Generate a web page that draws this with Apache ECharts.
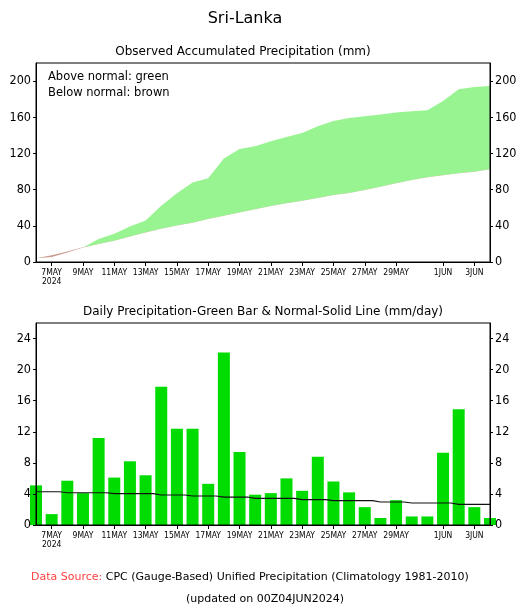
<!DOCTYPE html>
<html>
<head>
<meta charset="utf-8">
<script src="https://cdn.jsdelivr.net/npm/echarts@6/dist/echarts.min.js"></script>
<style>
  html, body { margin: 0; padding: 0; background: #fff; }
  #chart { width: 532px; height: 607px; }
</style>
</head>
<body>
<div id="chart"></div>
<script>
// Days shown on both panels (index 0 = 6 May 2024)
const days = ['6MAY','7MAY','8MAY','9MAY','10MAY','11MAY','12MAY','13MAY','14MAY','15MAY',
  '16MAY','17MAY','18MAY','19MAY','20MAY','21MAY','22MAY','23MAY','24MAY','25MAY',
  '26MAY','27MAY','28MAY','29MAY','30MAY','31MAY','1JUN','2JUN','3JUN','4JUN'];

// Accumulated precipitation (mm)
const observedAccum = [4.2, 5.5, 10.6, 16.1, 25.3, 31.2, 39.2, 45.8, 62.3, 76.0,
  88.0, 92.5, 114.5, 124.8, 128.1, 133.6, 138.3, 142.7, 150.1, 156.0,
  159.2, 161.1, 163.0, 165.2, 166.6, 167.7, 178.0, 190.9, 193.4, 194.5];
const normalAccum = [4.1, 7.5, 11.7, 16.4, 19.8, 23.5, 28.2, 32.6, 36.7, 40.3,
  43.5, 47.4, 51.0, 54.6, 58.4, 62.0, 65.0, 67.8, 70.8, 74.1,
  76.4, 79.6, 83.3, 87.0, 90.6, 93.6, 95.8, 98.0, 99.8, 102.4];

// Daily precipitation (mm/day) and its climatological normal
const dailyPrecip = [5.1, 1.4, 5.7, 4.1, 11.2, 6.1, 8.2, 6.4, 17.8, 12.4,
  12.4, 5.3, 22.2, 9.4, 3.9, 4.1, 6.0, 4.4, 8.8, 5.6,
  4.2, 2.3, 0.9, 3.2, 1.1, 1.1, 9.3, 14.9, 2.3, 0.9];
const normalDaily = [4.28, 4.28, 4.15, 4.15, 4.15, 4.03, 4.03, 4.03, 3.86, 3.86,
  3.73, 3.73, 3.6, 3.6, 3.43, 3.43, 3.43, 3.26, 3.26, 3.13,
  3.13, 3.13, 2.96, 2.96, 2.83, 2.83, 2.83, 2.66, 2.66, 2.66];

// Date ticks along the bottom of each panel
const tickDays = [1, 3, 5, 7, 9, 11, 13, 15, 17, 19, 21, 23, 26, 28];
const tickLabels = ['7MAY\n2024','9MAY','11MAY','13MAY','15MAY','17MAY','19MAY',
  '21MAY','23MAY','25MAY','27MAY','29MAY','1JUN','3JUN'];

const accumTicks = [0, 40, 80, 120, 160, 200];
const dailyTicks = [0, 4, 8, 12, 16, 20, 24];

// Layered fills: green under observed, brown under normal, white under the lower of the two,
// which leaves green where observed exceeds normal and brown where it falls short.
const pairs = arr => arr.map((v, i) => [i, v]);
const lowerCurve = observedAccum.map((v, i) => Math.min(v, normalAccum[i]));

const FONT = 'DejaVu Sans';
const NARROW = '"DejaVu Sans Condensed", "Liberation Sans Narrow", sans-serif';

function xAxisFor(gridIndex) {
  return {
    type: 'value', gridIndex, min: 0, max: days.length - 1, z: 10,
    axisLine: { show: true, lineStyle: { color: '#000', width: 1 } },
    axisTick: { show: true, customValues: tickDays, length: 4, lineStyle: { color: '#000' } },
    axisLabel: {
      customValues: tickDays, margin: 6, color: '#000',
      fontFamily: NARROW, fontSize: 8.5, lineHeight: 9,
      formatter: v => tickLabels[tickDays.indexOf(Math.round(v))] || ''
    },
    splitLine: { show: false }
  };
}
function yAxisFor(gridIndex, pos, max, ticks) {
  return {
    type: 'value', gridIndex, position: pos, min: 0, max, z: 10,
    axisLine: { show: true, lineStyle: { color: '#000', width: 1 } },
    axisTick: { show: true, customValues: ticks, length: 3, lineStyle: { color: '#000' } },
    axisLabel: { customValues: ticks, margin: 5, color: '#000', fontFamily: NARROW, fontSize: 12.5 },
    splitLine: { show: false }
  };
}
function area(data, color, z) {
  return { type: 'line', xAxisIndex: 0, yAxisIndex: 0, data: pairs(data), z,
    symbol: 'none', silent: true, lineStyle: { width: 0, opacity: 0 },
    areaStyle: { color, opacity: 1 } };
}

const chart = echarts.init(document.getElementById('chart'), null, { renderer: 'canvas' });
chart.setOption({
  animation: false,
  backgroundColor: '#fff',
  grid: [
    { left: 36, right: 42, top: 63, height: 199, show: true, borderColor: '#000', borderWidth: 1, z: 10 },
    { left: 36, right: 42, top: 323, height: 202, show: true, borderColor: '#000', borderWidth: 1, z: 10 }
  ],
  xAxis: [xAxisFor(0), xAxisFor(1)],
  yAxis: [
    yAxisFor(0, 'left', 220, accumTicks), yAxisFor(0, 'right', 220, accumTicks),
    yAxisFor(1, 'left', 26, dailyTicks), yAxisFor(1, 'right', 26, dailyTicks)
  ],
  series: [
    area(observedAccum, '#98f490', 2),
    area(normalAccum, '#c99a8c', 3),
    area(lowerCurve, '#ffffff', 4),
    { name: 'Daily', type: 'bar', xAxisIndex: 1, yAxisIndex: 2,
      data: pairs(dailyPrecip), barWidth: 12,
      itemStyle: { color: '#00dc00' } },
    { name: 'Normal', type: 'line', xAxisIndex: 1, yAxisIndex: 2, step: 'middle',
      data: pairs(normalDaily), symbol: 'none',
      lineStyle: { color: '#111', width: 1.2 }, z: 5 }
  ],
  graphic: [
    { type: 'text', x: 245, y: 19, style: { text: 'Sri-Lanka', font: '16px ' + FONT, fill: '#000',
      textAlign: 'center', textVerticalAlign: 'middle' } },
    { type: 'text', x: 243, y: 52, style: { text: 'Observed Accumulated Precipitation (mm)',
      font: '12px ' + FONT, fill: '#000', textAlign: 'center', textVerticalAlign: 'middle' } },
    { type: 'text', x: 48, y: 77, style: { text: 'Above normal: green', font: '11.5px ' + FONT,
      fill: '#000', textAlign: 'left', textVerticalAlign: 'middle' } },
    { type: 'text', x: 48, y: 93, style: { text: 'Below normal: brown', font: '11.5px ' + FONT,
      fill: '#000', textAlign: 'left', textVerticalAlign: 'middle' } },
    { type: 'text', x: 263, y: 312, style: { text: 'Daily Precipitation-Green Bar & Normal-Solid Line (mm/day)',
      font: '12px ' + FONT, fill: '#000', textAlign: 'center', textVerticalAlign: 'middle' } },
    { type: 'text', x: 31, y: 577, style: {
      text: '{r|Data Source:} CPC (Gauge-Based) Unified Precipitation (Climatology 1981-2010)',
      font: '11px ' + FONT, fill: '#000', textAlign: 'left', textVerticalAlign: 'middle',
      rich: { r: { fill: '#ff4040', font: '11px ' + FONT } } } },
    { type: 'text', x: 265, y: 599, style: { text: '(updated on 00Z04JUN2024)', font: '11px ' + FONT,
      fill: '#000', textAlign: 'center', textVerticalAlign: 'middle' } }
  ]
});
</script>
</body>
</html>
